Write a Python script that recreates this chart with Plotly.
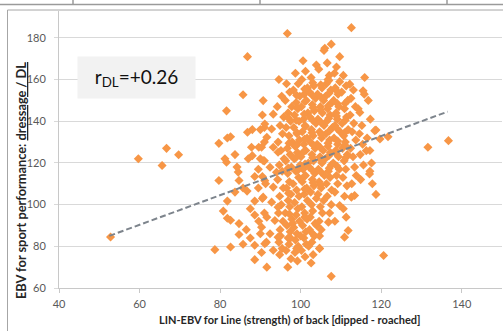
import plotly.graph_objects as go

# ---------------- data ----------------
# isolated / extreme horses
outer_x = [52.8, 59.7, 66.7, 65.6, 69.7, 118.7, 119.7, 121.7, 131.6, 136.7, 117.2, 117.2, 117.8, 118.7, 120.6, 96.7, 112.6]
outer_y = [84.5, 122.0, 127.0, 118.8, 123.9, 135.8, 131.5, 132.6, 127.5, 130.7, 126.0, 116.0, 110.0, 104.9, 75.6, 182.1, 184.9]

# left wing (LIN-EBV 78-92)
left_x = [78.7, 79.7, 79.7, 80.8, 81.2, 81.6, 81.6, 81.8, 81.8, 81.8, 82.6, 82.6, 82.6,
          83.7, 83.7, 84.5, 84.7, 84.7, 84.7, 85.7, 85.7, 85.7, 84.2,
          86.7, 86.8, 86.8, 87.8, 87.0, 88.0, 88.6, 88.6, 88.6, 88.6, 88.6, 88.0, 87.5, 86.5, 87.5,
          89.6, 89.6, 90.3, 90.7, 90.5, 90.0, 91.0, 90.0, 91.0, 89.5, 90.5, 91.0, 90.0, 91.5, 91.6, 90.5, 91.0, 89.5, 91.3]
left_y = [78.4, 111.6, 129.4, 96.9, 122.0, 120.3, 145.0, 132.0, 101.7, 93.5, 92.5, 132.6, 79.7,
          124.0, 106.0, 115.6, 111.6, 90.9, 85.7, 81.0, 108.0, 152.7, 118.0,
          106.5, 134.7, 171.0, 127.5, 122.0, 123.5, 101.7, 95.0, 80.5, 73.6, 113.5, 136.0, 98.0, 88.0, 84.0,
          127.5, 92.0, 77.0, 149.9, 113.5, 122.0, 121.0, 136.0, 137.0, 108.0, 103.0, 96.0, 86.0, 82.0, 70.0, 143.0, 130.0, 117.0, 110.0]

# LIN-EBV 90-95
mid_x = [91.1, 92.8, 91.6, 90.3, 93.2, 94.4, 90.7, 92.4, 94.0, 91.1, 93.2, 90.7, 92.8, 94.4, 91.6, 93.6, 90.3, 92.4, 94.4, 91.1, 93.2, 93.2]
mid_y = [138.7, 136.3, 132.3, 127.5, 127.5, 125.1, 121.1, 117.9, 115.5, 111.5, 108.4, 103.6, 101.2, 98.8, 94.0, 92.4, 89.2, 86.0, 84.4, 81.2, 78.1, 143.4]

# vertical strips through the main cloud
s95_x = [94.6, 95.3, 94.2, 95.8, 94.9, 95.5, 94.4, 95.1, 95.9, 94.7, 95.4, 94.3, 95.7, 94.8, 95.2, 94.5, 95.6, 94.9, 95.0, 94.6, 95.4, 94.8]
s95_y = [160, 152, 147, 142, 138, 134, 130, 126, 122, 119, 116, 112, 108, 104, 100, 96, 92, 88, 85, 82, 79, 76]

s97_x = [96.5, 97.3, 96.2, 97.8, 96.9, 97.5, 96.4, 97.1, 97.9, 96.7, 97.4, 96.3, 97.7, 96.8, 97.2, 96.5, 97.6, 96.9, 97.3, 96.2, 97.8, 96.6, 97.4, 96.9, 97.1, 96.4, 97.6, 96.8]
s97_y = [158, 154, 150, 147, 144, 140, 137, 133, 130, 127, 124, 121, 118, 115, 111, 108, 105, 102, 99, 96, 93, 90, 87, 84, 81, 78, 74, 70]

s99_x = [98.7, 99.4, 98.2, 99.8, 98.9, 99.3, 98.5, 99.6, 98.3, 99.1, 99.7, 98.6, 99.2, 98.4, 99.9, 98.8, 99.5, 98.1, 99.0, 99.6, 98.5, 99.3, 98.9, 99.7, 98.3, 99.1, 98.7, 99.4, 98.6, 99.2]
s99_y = [163, 158, 155, 152, 149, 146, 143, 140, 137, 134, 131, 128, 125, 122, 119, 116, 113, 110, 107, 104, 101, 98, 95, 92, 89, 86, 83, 80, 77, 73]

s101_x = [100.6, 101.2, 100.3, 101.7, 100.9, 101.4, 100.2, 101.8, 100.7, 101.1, 100.4, 101.6, 100.8, 101.3, 100.1, 101.9, 100.6, 101.2, 100.4, 101.5, 100.9, 101.7, 100.3, 101.0, 101.6, 100.5, 101.3, 100.8, 101.4, 100.2, 101.1]
s101_y = [169, 164, 160, 156, 153, 150, 147, 144, 141, 138, 135, 132, 129, 126, 123, 120, 117, 114, 111, 108, 105, 102, 99, 96, 93, 90, 87, 84, 81, 78, 75]

s103_x = [103.9, 102.6, 103.3, 102.2, 103.7, 102.9, 103.4, 102.3, 103.8, 102.7, 103.1, 102.4, 103.6, 102.8, 103.2, 102.1, 103.5, 102.9, 103.3, 102.5, 103.9, 102.7, 103.0, 102.4, 103.6, 102.2, 103.4, 102.8, 104.7, 103.1, 102.6]
s103_y = [167, 161, 157, 154, 151, 148, 145, 142, 139, 136, 133, 130, 127, 124, 121, 118, 115, 112, 109, 106, 103, 100, 97, 94, 91, 88, 85, 82, 79, 76, 72]

s105_x = [106.0, 104.5, 106.8, 105.3, 104.2, 105.7, 104.9, 105.4, 104.3, 105.8, 104.7, 105.2, 104.1, 105.6, 104.8, 105.3, 104.4, 105.9, 104.6, 105.1, 104.3, 105.7, 104.9, 105.4, 104.6, 105.1, 104.7, 104.7]
s105_y = [175, 165, 160, 156, 153, 150, 147, 144, 141, 138, 135, 132, 129, 126, 123, 120, 117, 114, 111, 108, 105, 102, 99, 96, 92, 88, 85, 79]

s107_x = [107.6, 105.8, 106.6, 107.1, 106.4, 107.5, 106.2, 107.8, 106.7, 107.3, 106.5, 107.9, 106.3, 107.2, 106.8, 107.4, 106.1, 107.6, 106.9, 107.3, 106.4, 107.7, 106.6, 107.6, 107.2, 106.9, 107.6]
s107_y = [177, 174, 168, 162, 158, 155, 152, 149, 146, 143, 140, 137, 134, 131, 128, 125, 122, 119, 116, 113, 110, 107, 104, 100, 96, 91.6, 65.6]

s109_x = [109.7, 108.9, 108.4, 109.7, 108.6, 109.3, 108.2, 109.5, 108.8, 109.1, 108.5, 109.8, 108.3, 109.2, 108.7, 109.4, 108.1, 109.6, 108.9, 109.2, 108.5, 109.7, 108.5, 111.8]
s109_y = [171, 166, 163, 159, 156, 153, 150, 147, 144, 141, 138, 135, 132, 129, 126, 123, 120, 117, 114, 110, 106, 99.6, 92, 87.6]

s111_x = [110.6, 111.3, 110.2, 111.7, 110.9, 111.4, 110.3, 111.8, 110.7, 111.1, 110.4, 111.6, 110.8, 111.2, 110.5, 111.5, 110.9, 110.6, 110.9, 111.3]
s111_y = [162, 157, 154, 150, 146, 142, 139, 136, 133, 130, 127, 124, 121, 117, 113, 109, 104, 98, 84.4, 94]

s113_x = [112.2, 113.1, 112.5, 113.6, 112.3, 113.2, 112.8, 113.7, 112.4, 113.0, 113.4, 113.8, 112.7, 113.4, 112.6]
s113_y = [157.8, 155, 151, 147, 143, 139, 135, 131, 127, 123, 118, 114, 110, 104.4, 103.6]

s115_x = [115.9, 115.5, 115.8, 114.3, 114.7, 115.2, 114.6, 115.4, 114.8, 115.6, 114.9]
s115_y = [161, 154.6, 153, 146, 144.2, 138, 134, 129, 124, 119, 112]

s117_x = [116.8, 117.3, 118.4, 116.5, 116.3, 117.6, 117.1]
s117_y = [150, 141, 135.5, 132, 125.9, 120, 114.7]

# extra horses filling the dense core
core_x = [99.0, 99.2, 98.9, 99.1, 99.0, 98.8, 99.3,
          101.0, 101.1, 100.9, 101.2, 101.0, 100.8, 101.1, 100.9, 101.0,
          103.0, 102.9, 103.1, 103.0, 102.8, 103.2, 103.0, 102.9, 103.1,
          105.0, 105.1, 104.9, 105.0, 105.2, 104.8, 105.0, 105.1, 104.9,
          107.0, 107.1, 106.9, 107.0, 107.2, 106.8, 107.0, 107.1,
          109.0, 109.1, 108.9, 109.0, 109.2, 108.8, 109.0,
          111.0, 111.1, 110.9, 111.0, 111.2,
          97.0, 97.1, 96.9, 97.0, 97.2,
          98.0, 100.0, 102.0, 104.0, 99.0, 101.0, 103.0, 97.5]
core_y = [152.5, 146.5, 140.5, 134.5, 128.5, 122.5, 116.5,
          155.5, 149.5, 143.5, 137.5, 131.5, 125.5, 119.5, 113.5, 107.5,
          158.5, 152.5, 146.5, 140.5, 134.5, 128.5, 122.5, 116.5, 110.5,
          157.5, 151.5, 145.5, 139.5, 133.5, 127.5, 121.5, 115.5, 109.5,
          159.5, 153.5, 147.5, 141.5, 135.5, 129.5, 123.5, 117.5,
          154.5, 148.5, 142.5, 136.5, 130.5, 124.5, 118.5,
          148.5, 140.5, 134.5, 128.5, 122.5,
          141.5, 129.5, 117.5, 105.5, 95.5,
          91, 85, 80, 90, 79, 94, 86, 84]

# linear trend line end points (as drawn)
trend_x = [52.5, 136.5]
trend_y = [85.0, 144.6]

x_ticks = [40, 60, 80, 100, 120, 140]
y_ticks = [60, 80, 100, 120, 140, 160, 180]
r_label = "r<sub>DL</sub>=+0.26"
x_title = "<b>LIN-EBV for Line (strength) of back [dipped - roached]</b>"
y_title = "<b>EBV for sport performance: <u>dressage / DL</u></b>"

groups = [(outer_x, outer_y), (left_x, left_y), (mid_x, mid_y), (s95_x, s95_y), (s97_x, s97_y),
          (s99_x, s99_y), (s101_x, s101_y), (s103_x, s103_y), (s105_x, s105_y), (s107_x, s107_y),
          (s109_x, s109_y), (s111_x, s111_y), (s113_x, s113_y), (s115_x, s115_y), (s117_x, s117_y),
          (core_x, core_y)]
xs, ys = [], []
for gx, gy in groups:
    n = min(len(gx), len(gy))
    xs += gx[:n]
    ys += gy[:n]

# ---------------- figure ----------------
W, H = 503, 331
L, R, T, B = 59, 1, 11, 43
pw, ph = W - L - R, H - T - B


def px(x):
    return (x - L) / pw


def py(y):
    return 1 - (y - T) / ph


FONT = "Lato"
fig = go.Figure()
fig.add_trace(go.Scatter(x=xs, y=ys, mode="markers",
                         marker=dict(symbol="diamond", size=7, color="#F79646", line=dict(width=0)),
                         hoverinfo="skip"))
fig.add_trace(go.Scatter(x=trend_x, y=trend_y, mode="lines",
                         line=dict(color="#7d848c", width=2, dash="6px,3px"), hoverinfo="skip"))

frame = "#a6a6a6"
shapes = [
    dict(type="line", xref="paper", yref="paper", x0=px(7.5), x1=px(7.5), y0=-0.3, y1=py(10), line=dict(color=frame, width=1)),
    dict(type="line", xref="paper", yref="paper", x0=px(7.5), x1=1.2, y0=py(10), y1=py(10), line=dict(color=frame, width=1)),
    dict(type="line", xref="paper", yref="paper", x0=-0.3, x1=1.2, y0=py(4.5), y1=py(4.5), line=dict(color="#9a9a9a", width=1.5)),
]
for vx in (73, 260, 447):
    shapes.append(dict(type="line", xref="paper", yref="paper", x0=px(vx), x1=px(vx), y0=py(0), y1=py(4.5),
                       line=dict(color="#9a9a9a", width=1.5)))

fig.update_layout(
    width=W, height=H, margin=dict(l=L, r=R, t=T, b=B),
    paper_bgcolor="white", plot_bgcolor="white", showlegend=False,
    font=dict(family=FONT, color="#595959", size=11),
    xaxis=dict(range=[40, 150], tickvals=x_ticks, showgrid=False, zeroline=False,
               showline=True, linecolor="#c8c8c8", ticks="outside", ticklen=4, tickcolor="#c8c8c8",
               tickfont=dict(size=11, color="#595959"), ticklabelstandoff=2),
    yaxis=dict(range=[60, 192.9], tickvals=y_ticks, showgrid=True, gridcolor="#d9d9d9", zeroline=False,
               showline=True, linecolor="#c8c8c8", ticks="outside", ticklen=4, tickcolor="#d9d9d9",
               tickfont=dict(size=11, color="#595959"), ticklabelstandoff=6),
    shapes=shapes,
    annotations=[
        dict(text=r_label, xref="paper", yref="paper", x=px(136.5), y=py(77.5), showarrow=False,
             font=dict(family=FONT, size=19, color="#111111"), bgcolor="#f2f2f2",
             width=117, height=41, borderpad=0, xanchor="center", yanchor="middle"),
        dict(text=y_title, xref="paper", yref="paper", x=px(21), y=py(181), showarrow=False, textangle=-90,
             font=dict(family=FONT, size=12.8, color="#262626"), xanchor="center", yanchor="middle"),
        dict(text=x_title, xref="paper", yref="paper", x=px(290), y=py(319), showarrow=False,
             font=dict(family=FONT, size=11, color="#262626"), xanchor="center", yanchor="middle"),
    ],
)

fig.write_html("out.html")
